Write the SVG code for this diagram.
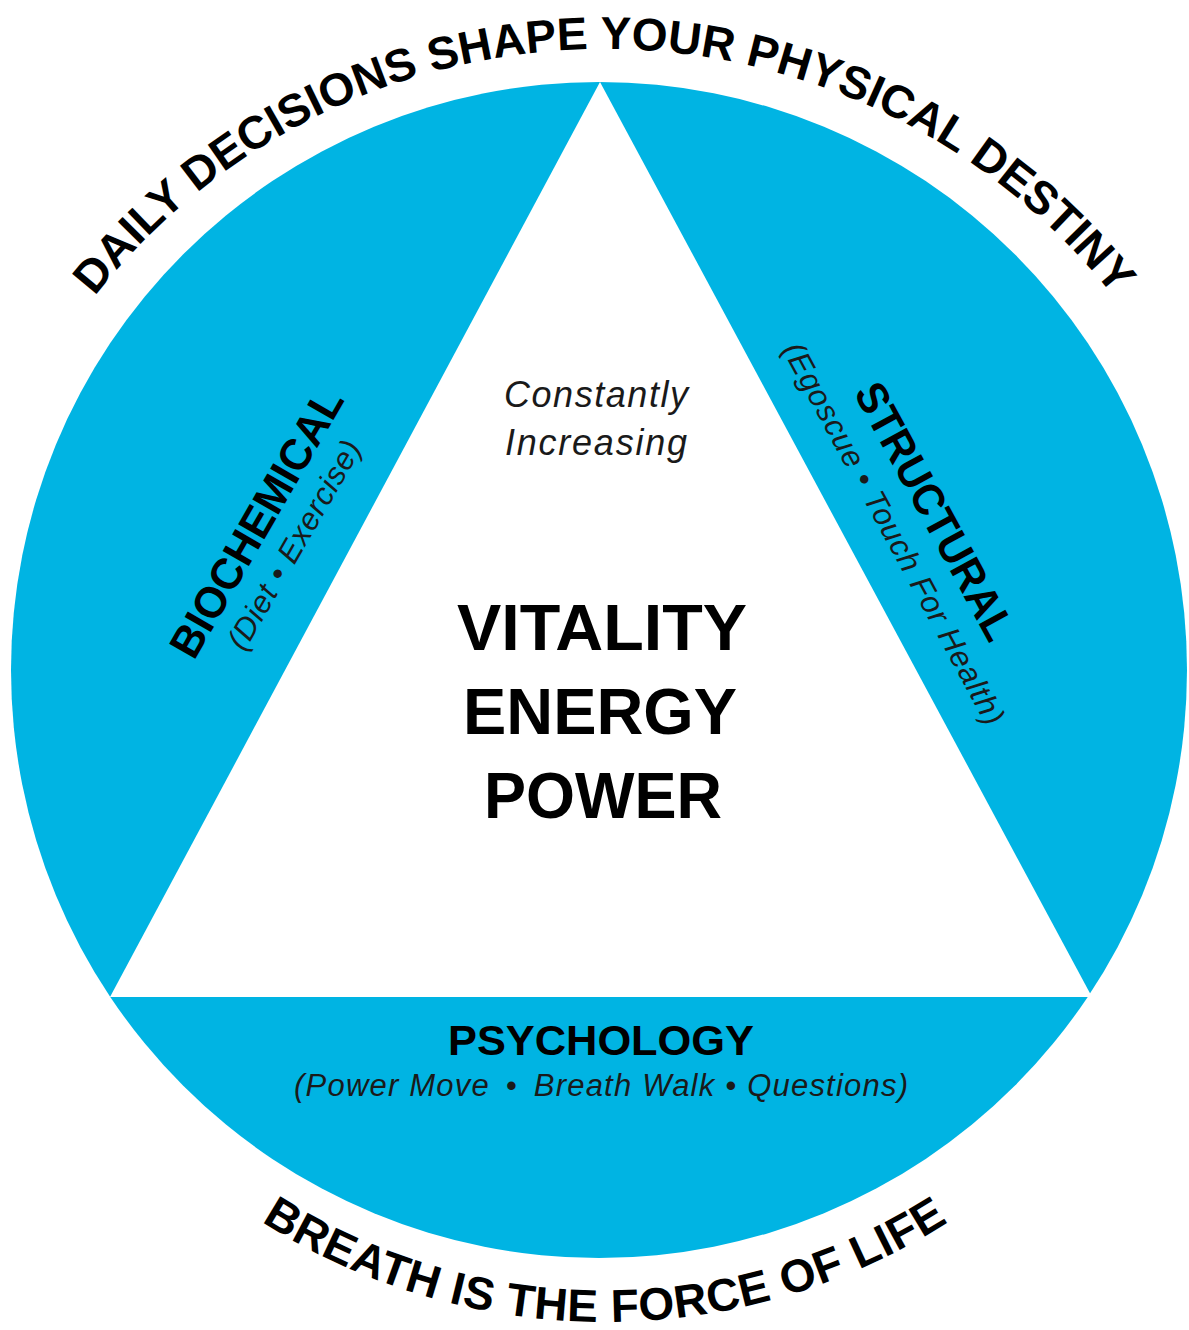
<svg xmlns="http://www.w3.org/2000/svg" xmlns:xlink="http://www.w3.org/1999/xlink" width="1189" height="1330" viewBox="0 0 1189 1330">
  <style>
    .bold { font-family: "Liberation Sans", Arial, sans-serif; font-weight: 700; fill: #000; }
    .ital { font-family: "Liberation Sans", Arial, sans-serif; font-style: italic; font-weight: 400; fill: #1a1a1a; }
    .arc { font-size: 46px; }
    .big { font-size: 64px; text-anchor: middle; }
  </style>
  <defs>
    <path id="topArc" d="M -44,697 A 648 648 0 0 1 1252,697"/>
    <path id="bottomArc" d="M -34,683 A 639 639 0 0 0 1244,683"/>
  </defs>
  <rect width="1189" height="1330" fill="#fff"/>
  <g id="disc">
    <circle cx="599" cy="670" r="588" fill="#00b4e3"/>
  </g>
  <g id="triangle">
    <polygon points="600,82 110,997 1092,997" fill="#fff"/>
  </g>
  <g id="top-slogan">
    <text class="bold arc"><textPath xlink:href="#topArc" href="#topArc" startOffset="50%" text-anchor="middle">DAILY DECISIONS SHAPE YOUR PHYSICAL DESTINY</textPath></text>
  </g>
  <g id="bottom-slogan">
    <text class="bold arc" letter-spacing="0.5"><textPath xlink:href="#bottomArc" href="#bottomArc" startOffset="50%" text-anchor="middle">BREATH IS THE FORCE OF LIFE</textPath></text>
  </g>
  <g id="center">
    <text class="ital" x="596" y="407" font-size="36" text-anchor="middle" textLength="184" lengthAdjust="spacing">Constantly</text>
    <text class="ital" x="596" y="455" font-size="36" text-anchor="middle" textLength="182" lengthAdjust="spacing">Increasing</text>
    <text class="bold big" x="602" y="650" textLength="290" lengthAdjust="spacingAndGlyphs">VITALITY</text>
    <text class="bold big" x="600" y="734" textLength="274" lengthAdjust="spacingAndGlyphs">ENERGY</text>
    <text class="bold big" x="603" y="818" textLength="238" lengthAdjust="spacingAndGlyphs">POWER</text>
  </g>
  <g id="biochemical" transform="translate(269.5,530.5) rotate(-60)">
    <text class="bold" x="0" y="0" font-size="44" text-anchor="middle" textLength="302" lengthAdjust="spacingAndGlyphs">BIOCHEMICAL</text>
    <text class="ital" x="0" y="39" font-size="31" text-anchor="middle" textLength="236" lengthAdjust="spacing">(Diet • Exercise)</text>
  </g>
  <g id="structural" transform="translate(921.5,518.5) rotate(61.5)">
    <text class="bold" x="0" y="0" font-size="44" text-anchor="middle" textLength="286" lengthAdjust="spacingAndGlyphs">STRUCTURAL</text>
    <text class="ital" x="0" y="42" font-size="31" text-anchor="middle" textLength="430" lengthAdjust="spacing">(Egoscue • Touch For Health)</text>
  </g>
  <g id="psychology">
    <text class="bold" x="601" y="1055" font-size="42" text-anchor="middle" textLength="306" lengthAdjust="spacingAndGlyphs">PSYCHOLOGY</text>
    <text class="ital" x="601" y="1096" font-size="31" text-anchor="middle" textLength="614" lengthAdjust="spacing">(Power Move <tspan dx="6">•</tspan><tspan dx="6"> Breath Walk • Questions)</tspan></text>
  </g>
</svg>
